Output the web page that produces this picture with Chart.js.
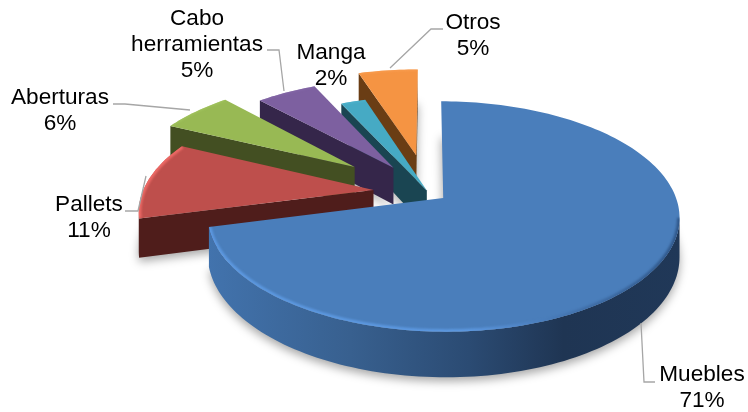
<!DOCTYPE html>
<html>
<head>
<meta charset="utf-8">
<style>
  html, body { margin: 0; padding: 0; background: #fff; }
  canvas { display: block; }
</style>
<script src="https://cdn.jsdelivr.net/npm/chart.js@4"></script>
</head>
<body>
<canvas id="pie" width="748" height="412"></canvas>
<script>
const categories = ['Muebles', 'Pallets', 'Aberturas', 'Cabo herramientas', 'Manga', 'Otros'];
const shares = [71, 11, 6, 5, 2, 5];
const explosion = [8, 24, 41, 28, 2, 36]; // percent of the radius

const topColors = ['#4A7EBB', '#BE4F4C', '#98B954', '#7D60A0', '#46AAC4', '#F59443'];
const wallColors = ['#2C4D76', '#4F1D1B', '#434F22', '#35264A', '#1A4552', '#6A3D14'];
const rimColors = ['#5C98E0', '#EE6A66', '#A3C65F', '#8568A8', '#4FB4CE', '#F99E52'];

// camera, fitted to the reference: ground plane seen from above with perspective
const cam = { x: 428.5, y: 192.5, radius: 231, tilt: 0.478, dist: 1446, depth: 38 };

const labels = [
  { lines: ['Muebles', '71%'], x: 702, y: 375, leader: [[655, 382], [644, 382], [641, 323]] },
  { lines: ['Pallets', '11%'], x: 89, y: 205, leader: [[125, 211], [138, 211], [146, 176]] },
  { lines: ['Aberturas', '6%'], x: 60, y: 98, leader: [[113, 104], [125, 104], [190, 110]] },
  { lines: ['Cabo', 'herramientas', '5%'], x: 197, y: 19, leader: [[267, 50], [279, 50], [284, 91]] },
  { lines: ['Manga', '2%'], x: 331, y: 53, leader: [] },
  { lines: ['Otros', '5%'], x: 473, y: 23, leader: [[443, 29], [431, 29], [390, 68]] }
];

function project(px, py, z) {
  const s = 1 / (1 - py / cam.dist);
  return { x: cam.x + px * s, y: cam.y + (cam.tilt * py + z) * s };
}

// outline of one slice in plane units, taken from the arc element
function outline(el, i) {
  const k = cam.radius / el.outerRadius;
  const mid = (el.startAngle + el.endAngle) / 2;
  const off = cam.radius * explosion[i] / 100;
  const ox = Math.cos(mid) * off, oy = Math.sin(mid) * off;
  const pts = [{ x: ox, y: oy }];
  const steps = Math.max(8, Math.ceil((el.endAngle - el.startAngle) * 40));
  for (let n = 0; n <= steps; n++) {
    const a = el.startAngle + (el.endAngle - el.startAngle) * n / steps;
    pts.push({ x: ox + Math.cos(a) * el.outerRadius * k, y: oy + Math.sin(a) * el.outerRadius * k });
  }
  return pts;
}

function trace(ctx, pts) {
  ctx.beginPath();
  pts.forEach((p, n) => (n ? ctx.lineTo(p.x, p.y) : ctx.moveTo(p.x, p.y)));
  ctx.closePath();
}

const pie3d = {
  id: 'pie3d',
  beforeDatasetsDraw(chart) {
    const ctx = chart.ctx;
    const arcs = chart.getDatasetMeta(0).data;
    const order = [5, 4, 3, 2, 1, 0]; // back to front

    order.forEach((i) => {
      const pts = outline(arcs[i], i);
      const top = pts.map((p) => project(p.x, p.y, 0));
      const bottom = pts.map((p) => project(p.x, p.y, cam.depth));

      // soft shadow under the slice: the shape itself sits off canvas
      ctx.save();
      ctx.shadowColor = 'rgba(0,0,0,0.35)';
      ctx.shadowBlur = 10;
      ctx.shadowOffsetX = 2000;
      ctx.shadowOffsetY = 4;
      ctx.fillStyle = '#000';
      trace(ctx, bottom.map((p) => ({ x: p.x - 2000, y: p.y })));
      ctx.fill();
      ctx.restore();

      let wallFill = wallColors[i];
      if (i === 0) {
        wallFill = ctx.createLinearGradient(208, 0, 682, 0);
        wallFill.addColorStop(0, '#4273AD');
        wallFill.addColorStop(0.3, '#38608F');
        wallFill.addColorStop(0.55, '#2B4B73');
        wallFill.addColorStop(0.75, '#1F3553');
        wallFill.addColorStop(1, '#203858');
      }
      // a wall shows when the clockwise outline runs leftwards on screen;
      // neighbouring edges are joined so the wall has no seams
      ctx.fillStyle = wallFill;
      let run = [];
      const flush = () => {
        if (run.length > 1) {
          trace(ctx, run.map((n) => top[n]).concat(run.slice().reverse().map((n) => bottom[n])));
          ctx.fill();
        }
        run = [];
      };
      for (let n = i === 0 ? 1 : 0; n < top.length; n++) {
        const m = (n + 1) % top.length;
        if (top[m].x < top[n].x) {
          if (!run.length) run.push(n);
          run.push(m);
        } else {
          flush();
        }
      }
      flush();

      ctx.fillStyle = topColors[i];
      trace(ctx, top);
      ctx.fill();

      // bevel along the outer edge, the big slice only on its near side
      ctx.save();
      trace(ctx, top);
      ctx.clip();
      let rim = rimColors[i];
      if (i === 0) {
        rim = ctx.createLinearGradient(208, 0, 682, 0);
        rim.addColorStop(0, '#5C98E0');
        rim.addColorStop(0.55, '#5C98E0');
        rim.addColorStop(0.8, '#3F6DA6');
        rim.addColorStop(1, '#2F5688');
      }
      ctx.filter = 'blur(1px)';
      ctx.strokeStyle = rim;
      ctx.lineWidth = i < 2 ? 5 : 2;
      ctx.beginPath();
      let pen = false;
      top.slice(1).forEach((p, n, arr) => {
        if (i === 0 && n < arr.length - 1 && arr[n + 1].x >= p.x) return;
        if (pen) ctx.lineTo(p.x, p.y); else ctx.moveTo(p.x, p.y);
        pen = true;
      });
      ctx.stroke();
      ctx.restore();
    });
    return false; // the default flat arcs are replaced by the projected ones
  },
  afterDraw(chart) {
    const ctx = chart.ctx;
    ctx.save();
    ctx.strokeStyle = '#A6A6A6';
    ctx.lineWidth = 1.3;
    labels.forEach((l) => {
      if (!l.leader.length) return;
      ctx.beginPath();
      l.leader.forEach((p, n) => (n ? ctx.lineTo(p[0], p[1]) : ctx.moveTo(p[0], p[1])));
      ctx.stroke();
    });
    ctx.fillStyle = '#000';
    ctx.font = '22.6px "Liberation Sans", Arial, sans-serif';
    ctx.textAlign = 'center';
    ctx.textBaseline = 'middle';
    labels.forEach((l) => {
      l.lines.forEach((t, n) => ctx.fillText(t, l.x, l.y + n * 25.7));
    });
    ctx.restore();
  }
};

new Chart(document.getElementById('pie'), {
  type: 'pie',
  data: {
    labels: categories,
    datasets: [{ data: shares, backgroundColor: topColors, borderWidth: 0 }]
  },
  options: {
    responsive: false,
    animation: false,
    plugins: { legend: { display: false }, tooltip: { enabled: false } }
  },
  plugins: [pie3d]
});
</script>
</body>
</html>
